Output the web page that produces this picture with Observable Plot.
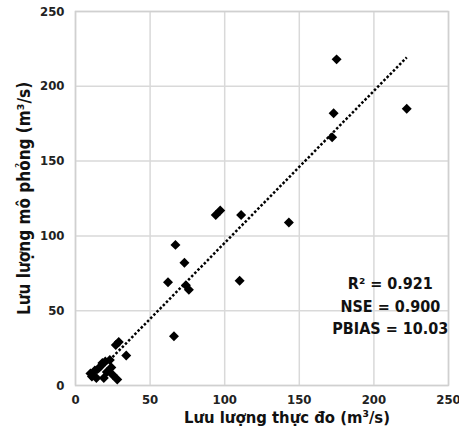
<!DOCTYPE html>
<html>
<head>
<meta charset="utf-8">
<script src="https://cdn.jsdelivr.net/npm/d3@7"></script>
<script src="https://cdn.jsdelivr.net/npm/@observablehq/plot@0.6"></script>
<style>
  html, body { margin: 0; padding: 0; background: #fff; }
  #chart svg { display: block; }
</style>
</head>
<body>
<div id="chart"></div>
<script>
// Observed discharge (m³/s)
const observed = [10, 11, 13, 14, 16, 18, 19, 20, 21, 23, 24, 25, 27, 28, 29, 34,
                  62, 66, 67, 73, 74, 76, 94, 97, 110, 111, 143, 172, 173, 175, 222];
// Simulated discharge (m³/s)
const simulated = [8, 6, 10, 5, 12, 15, 5, 16, 9, 17, 12, 7, 27, 4, 29, 20,
                   69, 33, 94, 82, 67, 64, 114, 117, 70, 114, 109, 166, 182, 218, 185];
const xTicks = [0, 50, 100, 150, 200, 250];
const yTicks = [0, 50, 100, 150, 200, 250];
const statLabels = ["R² = 0.921", "NSE = 0.900", "PBIAS = 10.03"];
const xTitle = "Lưu lượng thực đo (m³/s)";
const yTitle = "Lưu lượng mô phỏng (m³/s)";

const data = observed.map((x, i) => ({x, y: simulated[i]}));
const font = "'Liberation Sans Narrow', 'DejaVu Sans Condensed', 'Arial Narrow', sans-serif";

const chart = Plot.plot({
  width: 459,
  height: 432,
  marginLeft: 75,
  marginRight: 11,
  marginTop: 11,
  marginBottom: 47,
  style: {fontFamily: font, background: "#fff", overflow: "visible"},
  x: {domain: [0, 250]},
  y: {domain: [0, 250]},
  marks: [
    Plot.gridX(xTicks, {stroke: "#d9d9d9", strokeOpacity: 1, strokeWidth: 1.5}),
    Plot.gridY(yTicks, {stroke: "#d9d9d9", strokeOpacity: 1, strokeWidth: 1.5}),
    Plot.frame({stroke: "#d0d0d0", strokeWidth: 1.5}),
    Plot.axisX({ticks: xTicks, tickSize: 0, tickPadding: 9, fontSize: 13, fontWeight: "bold",
      fill: "#222", label: null}),
    Plot.axisY({ticks: yTicks, tickSize: 0, tickPadding: 11, fontSize: 13, fontWeight: "bold",
      fill: "#222", label: null}),
    Plot.text([xTitle], {frameAnchor: "bottom", dy: 37, dx: 25, fontSize: 16.5, fontWeight: "bold", fill: "#111"}),
    Plot.text([yTitle], {frameAnchor: "left", rotate: -90, textAnchor: "middle", dx: -51, dy: 0,
      fontSize: 17, fontWeight: "bold", fill: "#111"}),
    Plot.linearRegressionY(data, {x: "x", y: "y", ci: 0, stroke: "#000", strokeWidth: 2.5,
      strokeDasharray: "2.5,2", strokeLinecap: "butt"}),
    Plot.dot(data, {x: "x", y: "y", symbol: "diamond2", r: 4.5, fill: "#000", stroke: "none"}),
    Plot.text([statLabels.join("\n")], {x: 211, y: 54, lineHeight: 1.4, fontSize: 16,
      fontWeight: "bold", fill: "#111", textAnchor: "middle"})
  ]
});
document.getElementById("chart").appendChild(chart);
</script>
</body>
</html>
